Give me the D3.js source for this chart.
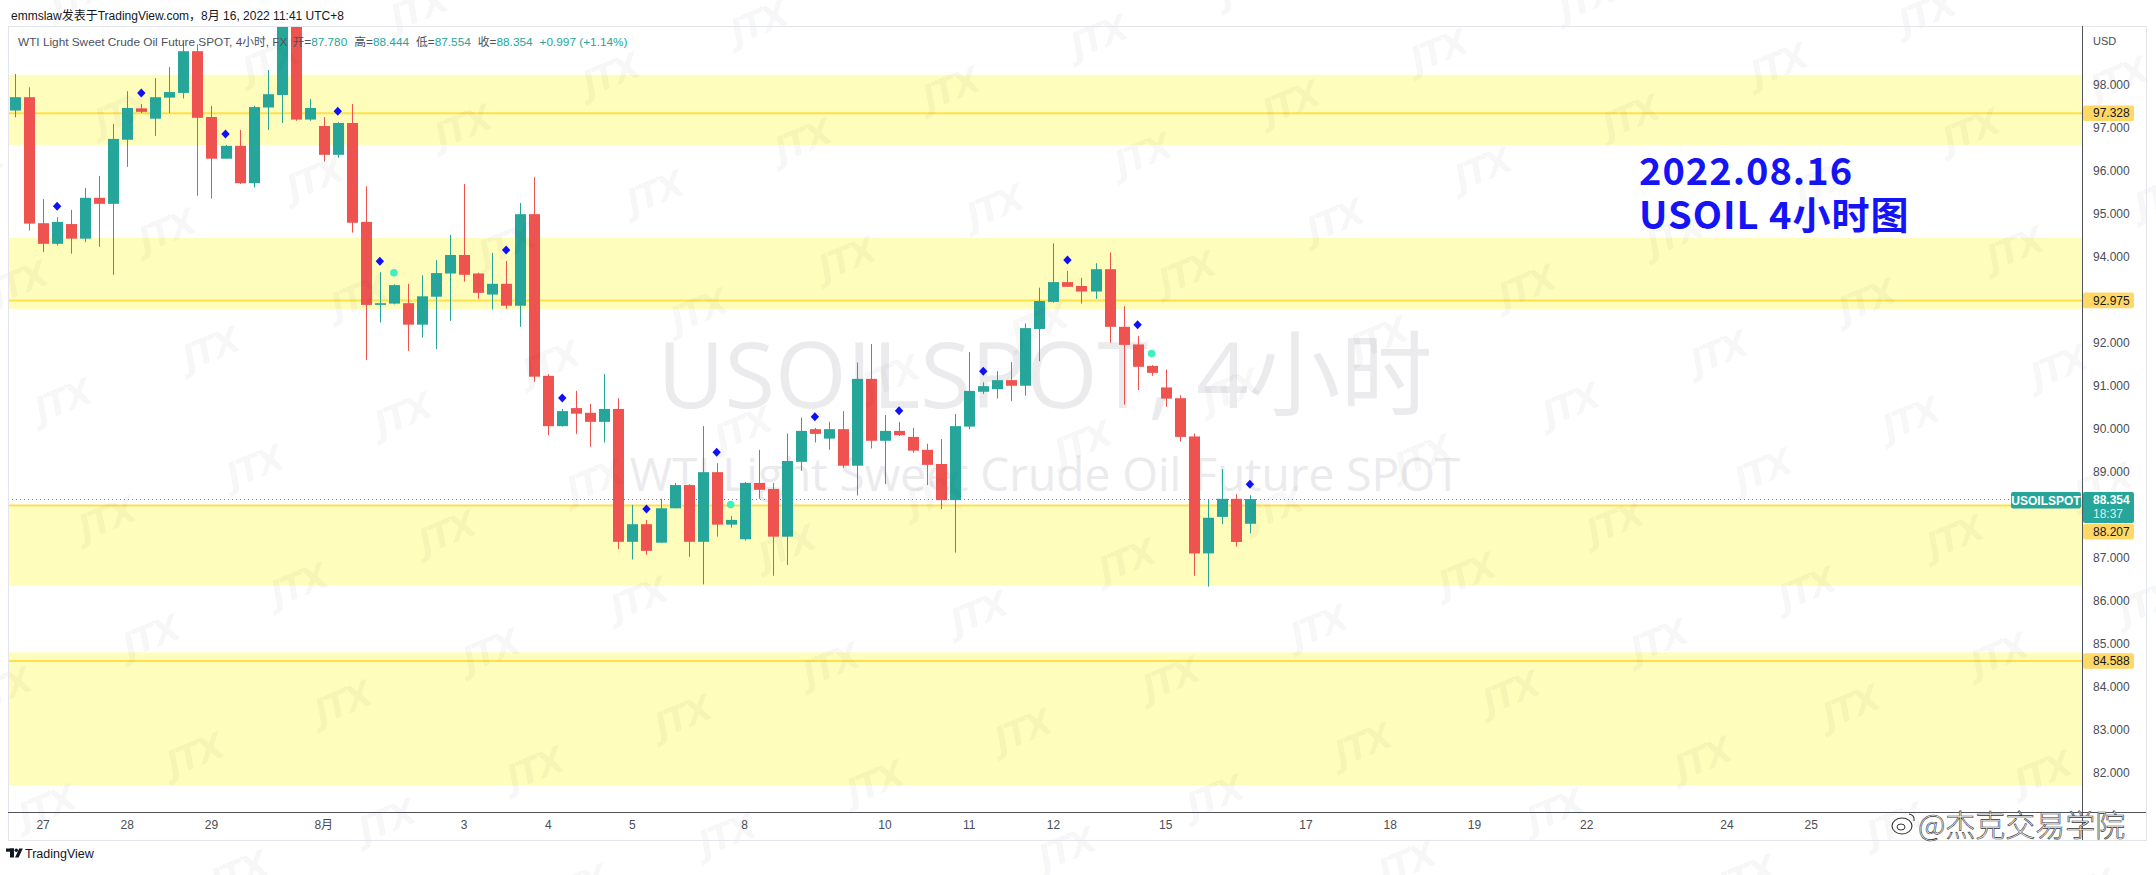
<!DOCTYPE html>
<html>
<head>
<meta charset="utf-8">
<script src="https://cdn.jsdelivr.net/npm/d3@7"></script>
<style>
  html, body { margin: 0; padding: 0; background: #ffffff; }
  svg { display: block; }
</style>
</head>
<body>
<svg id="chart" width="2156" height="875"></svg>
<script>
// ---------------- DATA ----------------
const openP  = [97.39,97.70,94.77,94.29,94.75,94.41,95.36,95.22,96.71,97.44,97.20,97.69,97.80,98.77,97.24,96.27,96.57,95.70,97.46,97.75,
                99.35,97.18,97.03,96.36,97.10,94.80,92.87,92.90,92.91,92.41,93.06,93.60,94.03,93.60,93.11,93.36,92.85,94.98,91.22,90.05,
                90.47,90.36,90.15,90.45,87.36,87.77,87.34,88.14,88.68,87.36,88.98,87.76,87.42,88.73,88.59,87.48,89.22,89.98,89.76,89.98,
                89.13,91.15,89.71,89.94,89.80,89.50,89.17,88.33,90.04,90.85,90.91,91.12,90.99,92.31,92.94,93.40,93.31,93.18,93.70,92.36,
                91.95,91.45,90.95,90.70,89.81,87.09,87.94,88.36,87.780];
const highP  = [98.24,97.93,95.33,94.91,95.08,95.59,95.87,97.08,97.84,97.54,98.14,98.40,98.99,98.93,97.50,96.59,96.94,97.50,98.33,99.60,
                99.55,97.66,97.24,97.12,97.54,95.63,93.63,93.35,93.36,93.56,93.91,94.50,95.68,93.62,94.08,93.89,95.24,95.84,91.26,90.45,
                90.87,90.57,91.26,90.70,88.22,87.87,88.36,88.73,88.70,90.05,89.19,87.96,88.75,89.50,88.73,89.88,90.25,90.01,90.15,90.40,
                91.53,91.96,90.31,90.15,90.01,89.64,89.75,90.33,91.77,91.07,91.33,91.54,92.44,93.27,94.30,93.66,93.50,93.84,94.09,92.84,
                92.15,91.47,91.37,90.77,89.88,88.35,89.05,88.47,88.444];
const lowP   = [97.23,94.60,94.10,94.25,94.06,94.33,94.22,93.57,96.08,97.33,96.80,97.33,97.67,95.41,95.34,96.27,95.68,95.60,96.94,97.10,
                97.15,97.15,96.20,96.29,94.55,91.59,92.46,92.88,91.80,92.11,91.84,92.50,93.41,93.01,92.76,92.78,92.36,91.08,89.84,90.04,
                89.87,89.57,89.67,87.19,86.95,87.06,87.33,88.14,87.01,86.37,87.48,87.69,87.39,88.36,86.57,86.82,89.01,89.67,89.50,89.08,
                88.44,89.53,88.70,89.82,89.43,88.68,88.12,87.11,89.98,90.80,90.69,90.63,90.76,91.56,92.92,93.29,92.90,93.01,91.99,90.55,
                90.89,91.22,90.50,89.69,86.57,86.32,87.77,87.25,87.554];
const closeP = [97.70,94.76,94.29,94.80,94.41,95.36,95.22,96.73,97.45,97.36,97.70,97.82,98.77,97.22,96.27,96.57,95.70,97.47,97.77,99.35,
                97.18,97.45,96.36,97.10,94.78,92.87,92.91,93.33,92.41,93.07,93.61,94.03,93.57,93.15,93.36,92.85,94.98,91.20,90.05,90.40,
                90.34,90.15,90.45,87.36,87.77,87.15,88.14,88.68,87.36,88.98,87.76,87.87,88.73,88.57,87.48,89.24,89.94,89.87,89.98,89.13,
                91.15,89.71,89.94,89.84,89.48,89.15,88.33,90.05,90.87,90.98,91.12,90.99,92.33,92.96,93.40,93.29,93.18,93.70,92.36,91.94,
                91.43,91.29,90.69,89.80,87.09,87.92,88.36,87.357,88.354];

// signal markers (bar indices)
const diamondBars = [3,9,15,23,26,35,39,45,50,57,63,69,75,80,88];
const circleBars  = [27,51,81];

// time axis labels (bar index of first bar of the day)
const timeTickIndex = [2,8,14,22,32,38,44,52,62,68,74,82,92,98,104,112,122,128];
const timeTickLabel = ["27","28","29","8月","3","4","5","8","10","11","12","15","17","18","19","22","24","25"];

// horizontal zones
const zoneTop    = [98.22, 94.43, 88.207, 84.79];
const zoneBottom = [96.59, 92.77, 86.34, 81.69];
const zoneLine   = [97.328, 92.975, 88.207, 84.588];

const symbolName = "USOILSPOT";
const countdown  = "18:37";
const headerText = "emmslaw发表于TradingView.com，8月 16, 2022 11:41 UTC+8";
const legendName = "WTI Light Sweet Crude Oil Future SPOT, 4小时, FX";
const legendKeys = ["开","高","低","收"];
const wmLine1 = "USOILSPOT, 4小时";
const wmLine2 = "WTI Light Sweet Crude Oil Future SPOT";
const noteLines = ["2022.08.16", "USOIL 4小时图"];

// ---------------- LAYOUT ----------------
const W = 2156, H = 875;
const pane = {left: 8, right: 2082, top: 26, bottom: 812};
const frameRight = 2146, frameBottom = 840;
const UP = "#26a69a", DOWN = "#ef5350";
const uiFont = "'Liberation Sans', Arial, 'Noto Sans CJK SC', sans-serif";
const cjkFont = "'Noto Sans CJK SC', 'Noto Sans', sans-serif";

const svg = d3.select("#chart");
const x = d3.scaleLinear().domain([-0.5, 147.3]).range([pane.left, pane.right]);
const y = d3.scaleLinear().domain([82, 98]).range([772.3, 84.3]);
const fmt = d3.format(".3f");

svg.append("rect").attr("width", W).attr("height", H).attr("fill", "#ffffff");

const defs = svg.append("defs");
defs.append("clipPath").attr("id", "paneClip")
  .append("rect").attr("x", pane.left).attr("y", pane.top)
  .attr("width", pane.right - pane.left).attr("height", pane.bottom - pane.top);

const g = svg.append("g").attr("clip-path", "url(#paneClip)");

// zones
const zones = zoneTop.map((t, i) => ({t, b: zoneBottom[i], l: zoneLine[i]}));
g.selectAll("rect.zone").data(zones).join("rect")
  .attr("x", pane.left + 1).attr("width", pane.right - pane.left - 1)
  .attr("y", d => y(d.t)).attr("height", d => y(d.b) - y(d.t))
  .attr("fill", "#fffdbb");
g.selectAll("line.zline").data(zones).join("line")
  .attr("x1", pane.left + 1).attr("x2", pane.right)
  .attr("y1", d => y(d.l)).attr("y2", d => y(d.l))
  .attr("stroke", "#fde04c").attr("stroke-width", 2);

// big watermark
const cx = (pane.left + pane.right) / 2;
g.append("text").attr("x", cx).attr("y", 408).attr("text-anchor", "middle")
  .attr("font-family", "'Open Sans', 'Noto Sans CJK SC', sans-serif").attr("font-size", 92)
  .attr("fill", "#ebebee").text(wmLine1);
g.append("text").attr("x", cx).attr("y", 491).attr("text-anchor", "middle")
  .attr("font-family", "'Open Sans', sans-serif").attr("font-size", 46)
  .attr("fill", "#ebebee").text(wmLine2);

// current price dotted line
const lastIdx = closeP.length - 1;
const lastClose = closeP[lastIdx];
const lastY = Math.round(y(lastClose)) + 0.5;
g.append("line").attr("x1", pane.left).attr("x2", 2011)
  .attr("y1", lastY).attr("y2", lastY)
  .attr("stroke", UP).attr("stroke-width", 1).attr("stroke-dasharray", "1,3");

// candles
const bars = openP.map((o, i) => ({i, o, h: highP[i], l: lowP[i], c: closeP[i]}));
const cg = g.append("g");
cg.selectAll("line.wick").data(bars).join("line")
  .attr("x1", d => Math.round(x(d.i)) + 0.5).attr("x2", d => Math.round(x(d.i)) + 0.5)
  .attr("y1", d => y(d.h)).attr("y2", d => y(d.l))
  .attr("stroke", d => d.c >= d.o ? UP : DOWN).attr("stroke-width", 1);
cg.selectAll("rect.body").data(bars).join("rect")
  .attr("x", d => Math.round(x(d.i)) - 5).attr("width", 11)
  .attr("y", d => y(Math.max(d.o, d.c)))
  .attr("height", d => Math.max(1.5, Math.abs(y(d.o) - y(d.c))))
  .attr("fill", d => d.c >= d.o ? UP : DOWN);

// markers
cg.selectAll("path.dia").data(diamondBars).join("path")
  .attr("transform", i => `translate(${x(i)},${y(highP[i]) - 11})`)
  .attr("d", "M0,-4.5L4.2,0L0,4.5L-4.2,0Z").attr("fill", "#1010f8");
cg.selectAll("circle.sig").data(circleBars).join("circle")
  .attr("cx", i => x(i)).attr("cy", i => y(highP[i]) - 11.5).attr("r", 3.8)
  .attr("fill", "#3df0c2");

// annotation
const note = svg.append("g");
noteLines.forEach((t, k) => {
  note.append("text").attr("x", 1639).attr("y", 185 + k * 44)
    .attr("font-family", cjkFont).attr("font-weight", 700).attr("font-size", 38)
    .attr("letter-spacing", 1).attr("fill", "#1414f5").text(t);
});

// JTX watermark lattice
const wm = svg.append("g").attr("pointer-events", "none");
for (let m = -12; m <= 12; m++) {
  for (let n = -20; n <= 20; n++) {
    const px = 654 + 44 * m - 148 * n, py = 193 + 118 * m + 52 * n;
    if (px < -30 || px > W + 30 || py < -20 || py > H + 20) continue;
    wm.append("text").attr("transform", `translate(${px},${py}) rotate(-22)`)
      .attr("text-anchor", "middle").attr("dominant-baseline", "central")
      .attr("font-family", "'DejaVu Sans', sans-serif").attr("font-weight", 700)
      .attr("font-style", "italic").attr("font-size", 36).attr("letter-spacing", -3)
      .attr("fill", "rgba(0,0,0,0.035)").text("JTX");
  }
}

// frame
svg.append("rect").attr("x", pane.left + 0.5).attr("y", pane.top + 0.5)
  .attr("width", frameRight - pane.left).attr("height", frameBottom - pane.top)
  .attr("fill", "none").attr("stroke", "#e3e5ec").attr("stroke-width", 1);
svg.append("line").attr("x1", pane.left).attr("x2", frameRight)
  .attr("y1", pane.bottom + 0.5).attr("y2", pane.bottom + 0.5)
  .attr("stroke", "#50535e").attr("stroke-width", 1);
svg.append("line").attr("x1", pane.right + 0.5).attr("x2", pane.right + 0.5)
  .attr("y1", pane.top).attr("y2", frameBottom)
  .attr("stroke", "#50535e").attr("stroke-width", 1);

// time axis labels
svg.append("g").selectAll("text").data(timeTickIndex).join("text")
  .attr("x", i => x(i)).attr("y", 829).attr("text-anchor", "middle")
  .attr("font-family", uiFont).attr("font-size", 12).attr("fill", "#4a4d57")
  .text((i, k) => timeTickLabel[k]);

// price tags
const tags = [];
const curTop = Math.round(y(lastClose)) - 7;
const curTag = {top: curTop, bottom: curTop + 31};
zoneLine.forEach(v => {
  let top = y(v) - 7.8, h = 15.6;
  if (top < curTag.bottom && top + h > curTag.top) top = curTag.bottom + 1;
  tags.push({v, top, h});
});

// price tick labels (hide where a tag sits)
const ticks = y.ticks(16);
const centers = tags.map(t => t.top + t.h / 2).concat([curTag.top + 15.5]);
svg.append("g").selectAll("text").data(ticks.filter(t => centers.every(c => Math.abs(y(t) - c) > 12)))
  .join("text").attr("x", 2093).attr("y", d => y(d) + 4.3)
  .attr("font-family", uiFont).attr("font-size", 12).attr("fill", "#4a4d57")
  .text(d => fmt(d));
svg.append("text").attr("x", 2093).attr("y", 45).attr("font-family", uiFont)
  .attr("font-size", 11).attr("fill", "#4a4d57").text("USD");

const tg = svg.append("g");
tags.forEach(t => {
  tg.append("rect").attr("x", pane.right + 1).attr("y", t.top).attr("width", 51).attr("height", t.h)
    .attr("rx", 2).attr("fill", "#ffd866");
  tg.append("text").attr("x", 2093).attr("y", t.top + t.h / 2 + 4.3)
    .attr("font-family", uiFont).attr("font-size", 12).attr("fill", "#131722").text(fmt(t.v));
});
tg.append("rect").attr("x", pane.right + 1).attr("y", curTag.top).attr("width", 51).attr("height", 31)
  .attr("rx", 2).attr("fill", UP);
tg.append("text").attr("x", 2093).attr("y", curTag.top + 12.3).attr("font-family", uiFont)
  .attr("font-size", 12).attr("font-weight", 700).attr("fill", "#ffffff").text(fmt(lastClose));
tg.append("text").attr("x", 2093).attr("y", curTag.top + 26.3).attr("font-family", uiFont)
  .attr("font-size", 12).attr("fill", "rgba(255,255,255,0.85)").text(countdown);
tg.append("rect").attr("x", 2011).attr("y", curTag.top).attr("width", 70).attr("height", 16.5)
  .attr("rx", 2).attr("fill", UP);
tg.append("text").attr("x", 2046).attr("y", curTag.top + 12.5).attr("text-anchor", "middle")
  .attr("font-family", uiFont).attr("font-size", 12).attr("font-weight", 700).attr("fill", "#ffffff")
  .text(symbolName);

// header
svg.append("text").attr("x", 11).attr("y", 20).attr("font-family", uiFont)
  .attr("font-size", 12).attr("fill", "#131722").text(headerText);

// legend
const legVals = [openP[lastIdx], highP[lastIdx], lowP[lastIdx], closeP[lastIdx]];
const chg = closeP[lastIdx] - closeP[lastIdx - 1];
const pct = chg / closeP[lastIdx - 1] * 100;
const leg = svg.append("text").attr("x", 18).attr("y", 45.5).attr("font-family", uiFont)
  .attr("font-size", 11.8);
leg.append("tspan").attr("fill", "#4c525e").text(legendName);
legendKeys.forEach((k, i) => {
  leg.append("tspan").attr("dx", i === 0 ? 5 : 7).attr("fill", "#4c525e").text(k + "=");
  leg.append("tspan").attr("fill", UP).text(fmt(legVals[i]));
});
leg.append("tspan").attr("dx", 7).attr("fill", UP)
  .text((chg >= 0 ? "+" : "") + fmt(chg) + " (" + (pct >= 0 ? "+" : "") + d3.format(".2f")(pct) + "%)");

// TradingView logo
const lg = svg.append("g").attr("fill", "#131722");
lg.append("rect").attr("x", 6).attr("y", 848.5).attr("width", 8).attr("height", 3.2);
lg.append("rect").attr("x", 10).attr("y", 848.5).attr("width", 4).attr("height", 9);
lg.append("circle").attr("cx", 16.3).attr("cy", 850.2).attr("r", 1.7);
lg.append("path").attr("d", "M15,857.5L19.2,848.5L22.8,848.5L18.6,857.5Z");
svg.append("text").attr("x", 25).attr("y", 857.5).attr("font-family", uiFont)
  .attr("font-size", 12.5).attr("fill", "#131722").text("TradingView");

// Weibo watermark
const wb = svg.append("g");
wb.append("ellipse").attr("cx", 1902).attr("cy", 826).attr("rx", 10).attr("ry", 8)
  .attr("fill", "#ffffff").attr("stroke", "#333").attr("stroke-width", 1.1);
wb.append("ellipse").attr("cx", 1901).attr("cy", 827).attr("rx", 4).attr("ry", 3)
  .attr("fill", "none").attr("stroke", "#333").attr("stroke-width", 1);
wb.append("path").attr("d", "M1909,814 Q1915,815 1914,821").attr("fill", "none")
  .attr("stroke", "#333").attr("stroke-width", 1.1);
wb.append("text").attr("x", 1918).attr("y", 836).attr("font-family", cjkFont)
  .attr("font-size", 30).attr("font-weight", 300).attr("fill", "#ffffff")
  .attr("stroke", "#333").attr("stroke-width", 0.6)
  .text("@杰克交易学院");
</script>
</body>
</html>
